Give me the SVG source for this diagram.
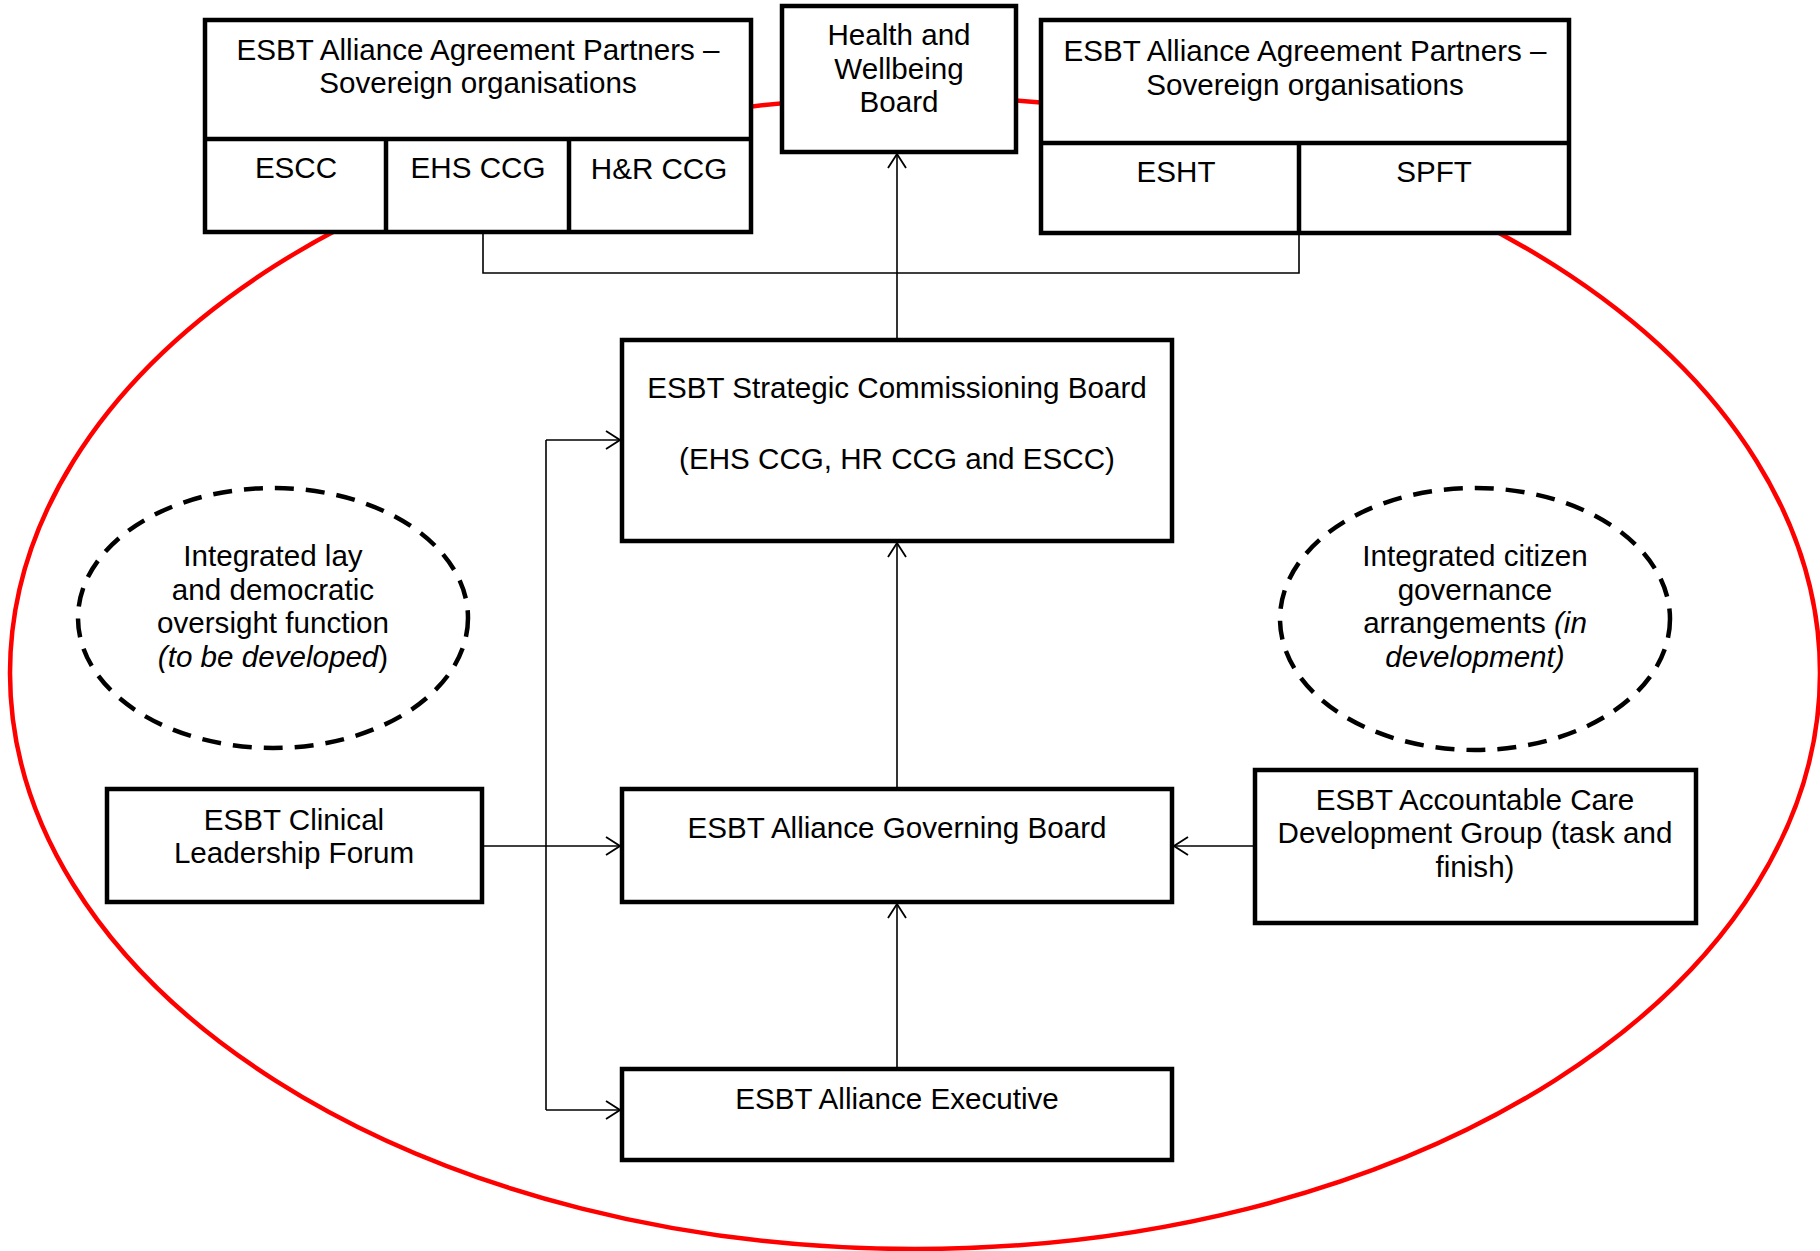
<svg xmlns="http://www.w3.org/2000/svg" width="1820" height="1251" viewBox="0 0 1820 1251">
<style>
.box{fill:#fff;stroke:#000;stroke-width:4.5}
.div{fill:none;stroke:#000;stroke-width:4.5}
.t{font-family:"Liberation Sans",Arial,sans-serif;font-size:29.6px;fill:#000;text-anchor:middle}
.i{font-style:italic}
.c{fill:none;stroke:#000;stroke-width:1.6}
.dash{fill:#fff;stroke:#000;stroke-width:4.5;stroke-dasharray:19 12}
</style>
<defs>
<marker id="ah" viewBox="0 0 16 20" refX="15" refY="10" markerWidth="16" markerHeight="20" markerUnits="userSpaceOnUse" orient="auto">
<path d="M1,1 L15,10 L1,19" fill="none" stroke="#000" stroke-width="1.8"/>
</marker>
</defs>
<rect width="1820" height="1251" fill="#fff"/>
<ellipse id="boundary" cx="915" cy="673" rx="905" ry="576" fill="none" stroke="#f00" stroke-width="4.5"/>
<g id="connectors">
<path class="c" d="M897,340 L897,154" marker-end="url(#ah)"/>
<path class="c" d="M483,232 L483,273 L1299,273 L1299,233"/>
<path class="c" d="M897,789 L897,543" marker-end="url(#ah)"/>
<path class="c" d="M897,1069 L897,904" marker-end="url(#ah)"/>
<path class="c" d="M482,846 L620,846" marker-end="url(#ah)"/>
<path class="c" d="M546,440 L546,1110"/>
<path class="c" d="M546,440 L620,440" marker-end="url(#ah)"/>
<path class="c" d="M546,1110 L620,1110" marker-end="url(#ah)"/>
<path class="c" d="M1255,846 L1174,846" marker-end="url(#ah)"/>
</g>
<g id="partners-left">
<rect class="box" x="205" y="20" width="546" height="212"/>
<path class="div" d="M205,139 L751,139 M386,139 L386,232 M569,139 L569,232"/>
<text class="t" x="478" y="60">ESBT Alliance Agreement Partners –</text>
<text class="t" x="478" y="93">Sovereign organisations</text>
<text class="t" x="296" y="178">ESCC</text>
<text class="t" x="478" y="178">EHS CCG</text>
<text class="t" x="659" y="179">H&amp;R CCG</text>
</g>
<g id="hwb">
<rect class="box" x="782" y="6" width="234" height="146"/>
<text class="t" x="899" y="45">Health and</text>
<text class="t" x="899" y="79">Wellbeing</text>
<text class="t" x="899" y="112">Board</text>
</g>
<g id="partners-right">
<rect class="box" x="1041" y="20" width="528" height="213"/>
<path class="div" d="M1041,143 L1569,143 M1299,143 L1299,233"/>
<text class="t" x="1305" y="61">ESBT Alliance Agreement Partners –</text>
<text class="t" x="1305" y="95">Sovereign organisations</text>
<text class="t" x="1176" y="182">ESHT</text>
<text class="t" x="1434" y="182">SPFT</text>
</g>
<g id="strategic">
<rect class="box" x="622" y="340" width="550" height="201"/>
<text class="t" x="897" y="398">ESBT Strategic Commissioning Board</text>
<text class="t" x="897" y="469">(EHS CCG, HR CCG and ESCC)</text>
</g>
<g id="lay-oversight">
<ellipse class="dash" cx="273" cy="618" rx="195" ry="130"/>
<text class="t" x="273" y="566">Integrated lay</text>
<text class="t" x="273" y="600">and democratic</text>
<text class="t" x="273" y="633">oversight function</text>
<text class="t" x="273" y="667"><tspan class="i">(to be developed</tspan>)</text>
</g>
<g id="citizen">
<ellipse class="dash" cx="1475" cy="619" rx="195" ry="131"/>
<text class="t" x="1475" y="566">Integrated citizen</text>
<text class="t" x="1475" y="600">governance</text>
<text class="t" x="1475" y="633">arrangements <tspan class="i">(in</tspan></text>
<text class="t i" x="1475" y="667">development)</text>
</g>
<g id="clinical">
<rect class="box" x="107" y="789" width="375" height="113"/>
<text class="t" x="294" y="830">ESBT Clinical</text>
<text class="t" x="294" y="863">Leadership Forum</text>
</g>
<g id="governing">
<rect class="box" x="622" y="789" width="550" height="113"/>
<text class="t" x="897" y="838">ESBT Alliance Governing Board</text>
</g>
<g id="accountable">
<rect class="box" x="1255" y="770" width="441" height="153"/>
<text class="t" x="1475" y="810">ESBT Accountable Care</text>
<text class="t" x="1475" y="843">Development Group (task and</text>
<text class="t" x="1475" y="877">finish)</text>
</g>
<g id="executive">
<rect class="box" x="622" y="1069" width="550" height="91"/>
<text class="t" x="897" y="1109">ESBT Alliance Executive</text>
</g>
</svg>
